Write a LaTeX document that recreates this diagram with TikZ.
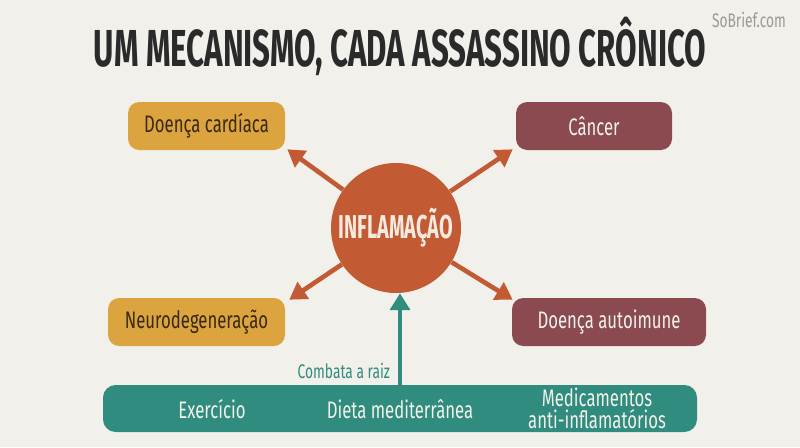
\documentclass[tikz,border=0pt]{standalone}
\usepackage{fontspec}
\usepackage{tikz}
\usetikzlibrary{arrows.meta, positioning, calc}
\setsansfont{Fira Sans}[FakeStretch=0.7]
\newfontfamily\headfont{Fira Sans}[FakeStretch=0.6]
\definecolor{paper}{HTML}{F1F0EB}
\definecolor{ink}{HTML}{2A2A2A}
\definecolor{muted}{HTML}{9A9A9A}
\definecolor{rust}{HTML}{C25A33}
\definecolor{rusttext}{HTML}{F6E9DF}
\definecolor{mustard}{HTML}{DBA43F}
\definecolor{mustardtext}{HTML}{3A2810}
\definecolor{wine}{HTML}{8A4A50}
\definecolor{teal}{HTML}{2F8C7E}
\definecolor{light}{HTML}{F2F1EA}
\tikzset{
  font=\sffamily,
  %
  box/.style={
    rounded corners=8pt, inner sep=4pt, align=center,
    minimum height=48*0.025cm, font=\sffamily\fontsize{17}{19}\selectfont,
  },
  boxm/.style={box, fill=mustard, text=mustardtext},
  boxw/.style={box, fill=wine, text=light},
  %
  hub/.style={circle, fill=rust, text=rusttext, minimum size=130*0.025cm,
              inner sep=0pt, font=\headfont\bfseries\fontsize{23.5}{25}\selectfont},
  bar/.style={fill=teal, rounded corners=9pt, minimum width=594*0.025cm,
              minimum height=47*0.025cm},
  bartext/.style={text=light, align=center,
                  font=\sffamily\fontsize{17}{15.5}\selectfont},
  %
  spoke/.style={draw=rust, line width=3.3pt,
                -{Triangle[length=12pt, width=14pt]}},
  rootflow/.style={draw=teal, line width=3.3pt,
                   -{Triangle[length=12pt, width=14pt]}},
  lbl/.style={text=teal, font=\sffamily\fontsize{14}{15}\selectfont, inner sep=2pt},
}
\begin{document}
\begin{tikzpicture}[x=0.025cm, y=-0.025cm]
  \fill[paper] (0,0) rectangle (800,447);
  \useasboundingbox (0,0) rectangle (800,447);

  \node[text=ink, font=\headfont\bfseries\fontsize{37}{40}\selectfont]
    (title) at (400,46) {UM MECANISMO, CADA ASSASSINO CRÔNICO};
  \node[text=muted, font=\sffamily\fontsize{14}{15}\selectfont]
    (brand) at (749,20) {SoBrief.com};

  \node[hub] (infl) at (396,228) {INFLAMAÇÃO};

  % the four diseases
  \node[boxm, minimum width=157*0.025cm] (card)   at (206.5,126) {Doença cardíaca};
  \node[boxw, minimum width=156*0.025cm] (cancer) at (594,126)   {Câncer};
  \node[boxm, minimum width=177*0.025cm] (neuro)  at (196.5,322) {Neurodegeneração};
  \node[boxw, minimum width=194*0.025cm] (auto)   at (609,322)   {Doença autoimune};

  \draw[spoke] (infl) -- ($(card.south east)+(2,-1)$);
  \draw[spoke] (infl) -- ($(cancer.south west)+(-3,-1)$);
  \draw[spoke] (infl) -- ($(neuro.north east)+(4,2)$);
  \draw[spoke] (infl) -- ($(auto.north west)+(1,2)$);

  % the root causes
  \node[bar] (roots) at (400,408.5) {};
  \node[bartext] (exer) at (212,409) {Exercício};
  \node[bartext] (diet) at (400,409) {Dieta mediterrânea};
  \node[bartext] (meds) at (597,408) {Medicamentos\\anti-inflamatórios};

  \coordinate (rootstart) at (roots.north -| diet);
  \draw[rootflow] (rootstart) -- (infl.south -| diet);
  \node[lbl, anchor=east] (fight) at (393,371) {Combata a raiz};

\end{tikzpicture}
\end{document}
